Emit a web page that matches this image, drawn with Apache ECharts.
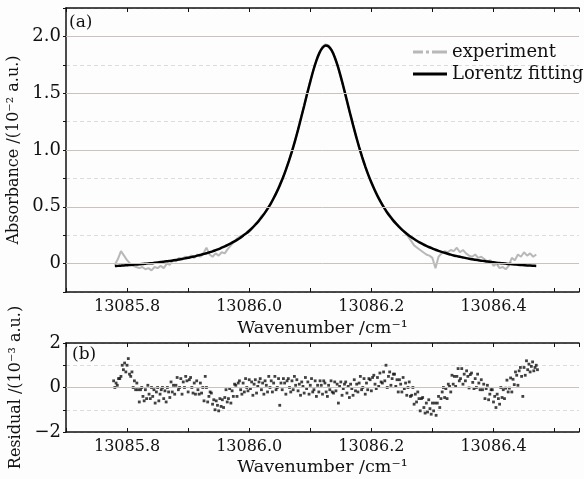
<!DOCTYPE html>
<html><head><meta charset="utf-8">
<script src="https://cdn.jsdelivr.net/npm/echarts@6/dist/echarts.min.js"></script>
<style>html,body{margin:0;padding:0;background:#fff}#c{width:584px;height:479px}</style>
</head><body><div id="c"></div>
<script>
// ---------- data ----------
const wavenumber = [
13085.780,13085.785,13085.790,13085.795,13085.800,13085.805,13085.810,13085.815,13085.820,13085.825,
13085.830,13085.835,13085.840,13085.845,13085.850,13085.855,13085.860,13085.865,13085.870,13085.875,
13085.880,13085.885,13085.890,13085.895,13085.900,13085.905,13085.910,13085.915,13085.920,13085.925,
13085.930,13085.935,13085.940,13085.945,13085.950,13085.955,13085.960,13085.965,13085.970,13085.975,
13085.980,13085.985,13085.990,13085.995,13086.000,13086.005,13086.010,13086.015,13086.020,13086.025,
13086.030,13086.035,13086.040,13086.045,13086.050,13086.055,13086.060,13086.065,13086.070,13086.075,
13086.080,13086.085,13086.090,13086.095,13086.100,13086.105,13086.110,13086.115,13086.120,13086.125,
13086.130,13086.135,13086.140,13086.145,13086.150,13086.155,13086.160,13086.165,13086.170,13086.175,
13086.180,13086.185,13086.190,13086.195,13086.200,13086.205,13086.210,13086.215,13086.220,13086.225,
13086.230,13086.235,13086.240,13086.245,13086.250,13086.255,13086.260,13086.265,13086.270,13086.275,
13086.280,13086.285,13086.290,13086.295,13086.300,13086.305,13086.310,13086.315,13086.320,13086.325,
13086.330,13086.335,13086.340,13086.345,13086.350,13086.355,13086.360,13086.365,13086.370,13086.375,
13086.380,13086.385,13086.390,13086.395,13086.400,13086.405,13086.410,13086.415,13086.420,13086.425,
13086.430,13086.435,13086.440,13086.445,13086.450,13086.455,13086.460,13086.465,13086.470];

const experiment = [
-0.01,0.04,0.11,0.07,0.03,0.00,-0.02,-0.03,-0.04,-0.03,
-0.05,-0.04,-0.06,-0.03,-0.04,-0.02,-0.04,0.00,-0.01,0.03,
0.02,0.05,0.04,0.06,0.05,0.07,0.05,0.08,0.06,0.09,
0.14,0.08,0.06,0.09,0.07,0.10,0.09,0.13,0.16,0.19,
0.22,0.24,0.25,0.26,0.28,0.31,0.35,0.37,0.42,0.44,
0.49,0.52,0.58,0.63,0.70,0.75,0.83,0.90,0.99,1.08,
1.18,1.29,1.39,1.50,1.61,1.70,1.79,1.86,1.91,1.93,
1.92,1.88,1.82,1.74,1.64,1.54,1.43,1.32,1.22,1.12,
1.02,0.93,0.85,0.78,0.72,0.66,0.60,0.55,0.50,0.46,
0.43,0.39,0.36,0.33,0.30,0.27,0.24,0.20,0.16,0.14,
0.12,0.10,0.08,0.07,0.05,-0.04,0.06,0.09,0.11,0.10,
0.12,0.11,0.14,0.10,0.12,0.09,0.07,0.06,0.08,0.05,
0.06,0.04,0.02,0.03,-0.02,0.00,-0.04,-0.03,-0.05,-0.02,
0.05,0.03,0.08,0.06,0.10,0.07,0.09,0.06,0.08];

const lorentzFit = [
-0.022,-0.020,-0.018,-0.016,-0.015,-0.012,-0.010,-0.008,-0.006,-0.004,
-0.001,0.002,0.004,0.007,0.010,0.014,0.017,0.020,0.024,0.028,
0.032,0.037,0.041,0.046,0.052,0.057,0.063,0.070,0.077,0.084,
0.091,0.100,0.108,0.118,0.128,0.140,0.151,0.164,0.178,0.193,
0.209,0.226,0.246,0.266,0.289,0.315,0.342,0.372,0.405,0.442,
0.482,0.526,0.575,0.629,0.688,0.753,0.825,0.904,0.988,1.081,
1.179,1.284,1.389,1.499,1.602,1.702,1.787,1.855,1.900,1.920,
1.911,1.876,1.817,1.738,1.644,1.541,1.434,1.326,1.221,1.120,
1.025,0.937,0.856,0.781,0.713,0.652,0.596,0.545,0.499,0.457,
0.419,0.385,0.354,0.325,0.299,0.276,0.254,0.234,0.216,0.199,
0.184,0.169,0.156,0.144,0.133,0.122,0.112,0.103,0.095,0.087,
0.079,0.072,0.066,0.060,0.054,0.048,0.043,0.039,0.034,0.030,
0.026,0.022,0.018,0.015,0.012,0.008,0.005,0.003,0.000,-0.003,
-0.005,-0.007,-0.010,-0.012,-0.014,-0.016,-0.017,-0.019,-0.021];

const residualX = [
13085.778,13085.780,13085.782,13085.784,13085.786,13085.788,13085.790,13085.792,13085.794,13085.796,
13085.798,13085.800,13085.802,13085.804,13085.806,13085.808,13085.810,13085.812,13085.814,13085.816,
13085.818,13085.820,13085.822,13085.824,13085.826,13085.828,13085.830,13085.832,13085.834,13085.836,
13085.838,13085.840,13085.842,13085.844,13085.846,13085.848,13085.850,13085.852,13085.854,13085.856,
13085.858,13085.860,13085.862,13085.864,13085.866,13085.868,13085.870,13085.872,13085.874,13085.876,
13085.878,13085.880,13085.882,13085.884,13085.886,13085.888,13085.890,13085.892,13085.894,13085.896,
13085.898,13085.900,13085.902,13085.904,13085.906,13085.908,13085.910,13085.912,13085.914,13085.916,
13085.918,13085.920,13085.922,13085.924,13085.926,13085.928,13085.930,13085.932,13085.934,13085.936,
13085.938,13085.940,13085.942,13085.944,13085.946,13085.948,13085.950,13085.952,13085.954,13085.956,
13085.958,13085.960,13085.962,13085.964,13085.966,13085.968,13085.970,13085.972,13085.974,13085.976,
13085.978,13085.980,13085.982,13085.984,13085.986,13085.988,13085.990,13085.992,13085.994,13085.996,
13085.998,13086.000,13086.002,13086.004,13086.006,13086.008,13086.010,13086.012,13086.014,13086.016,
13086.018,13086.020,13086.022,13086.024,13086.026,13086.028,13086.030,13086.032,13086.034,13086.036,
13086.038,13086.040,13086.042,13086.044,13086.046,13086.048,13086.050,13086.052,13086.054,13086.056,
13086.058,13086.060,13086.062,13086.064,13086.066,13086.068,13086.070,13086.072,13086.074,13086.076,
13086.078,13086.080,13086.082,13086.084,13086.086,13086.088,13086.090,13086.092,13086.094,13086.096,
13086.098,13086.100,13086.102,13086.104,13086.106,13086.108,13086.110,13086.112,13086.114,13086.116,
13086.118,13086.120,13086.122,13086.124,13086.126,13086.128,13086.130,13086.132,13086.134,13086.136,
13086.138,13086.140,13086.142,13086.144,13086.146,13086.148,13086.150,13086.152,13086.154,13086.156,
13086.158,13086.160,13086.162,13086.164,13086.166,13086.168,13086.170,13086.172,13086.174,13086.176,
13086.178,13086.180,13086.182,13086.184,13086.186,13086.188,13086.190,13086.192,13086.194,13086.196,
13086.198,13086.200,13086.202,13086.204,13086.206,13086.208,13086.210,13086.212,13086.214,13086.216,
13086.218,13086.220,13086.222,13086.224,13086.226,13086.228,13086.230,13086.232,13086.234,13086.236,
13086.238,13086.240,13086.242,13086.244,13086.246,13086.248,13086.250,13086.252,13086.254,13086.256,
13086.258,13086.260,13086.262,13086.264,13086.266,13086.268,13086.270,13086.272,13086.274,13086.276,
13086.278,13086.280,13086.282,13086.284,13086.286,13086.288,13086.290,13086.292,13086.294,13086.296,
13086.298,13086.300,13086.302,13086.304,13086.306,13086.308,13086.310,13086.312,13086.314,13086.316,
13086.318,13086.320,13086.322,13086.324,13086.326,13086.328,13086.330,13086.332,13086.334,13086.336,
13086.338,13086.340,13086.342,13086.344,13086.346,13086.348,13086.350,13086.352,13086.354,13086.356,
13086.358,13086.360,13086.362,13086.364,13086.366,13086.368,13086.370,13086.372,13086.374,13086.376,
13086.378,13086.380,13086.382,13086.384,13086.386,13086.388,13086.390,13086.392,13086.394,13086.396,
13086.398,13086.400,13086.402,13086.404,13086.406,13086.408,13086.410,13086.412,13086.414,13086.416,
13086.418,13086.420,13086.422,13086.424,13086.426,13086.428,13086.430,13086.432,13086.434,13086.436,
13086.438,13086.440,13086.442,13086.444,13086.446,13086.448,13086.450,13086.452,13086.454,13086.456,
13086.458,13086.460,13086.462,13086.464,13086.466,13086.468,13086.470,13086.472];

const residual = [
0.3,0.0,0.2,0.1,0.4,0.4,0.5,1.0,0.8,1.1,
0.7,1.0,1.3,0.6,0.5,0.7,0.0,0.3,-0.1,0.2,
-0.1,-0.65,-0.1,0.0,-0.4,-0.6,-0.1,-0.5,0.1,-0.3,
-0.5,0.0,-0.4,-0.1,-0.7,-0.2,0.0,-0.6,-0.3,-0.1,
0.0,-0.5,-0.15,-0.65,0.0,-0.2,-0.45,0.25,-0.2,0.1,
-0.3,0.1,0.45,-0.1,0.0,0.4,-0.3,0.25,0.0,0.5,
0.3,-0.2,0.35,0.45,0.0,-0.25,0.2,-0.3,0.3,-0.1,
-0.3,0.2,-0.25,0.0,-0.6,0.5,0.0,-0.65,-0.4,-0.2,
-0.25,-0.75,-0.55,-1.0,-0.6,-0.8,-1.05,-0.5,-0.85,-0.55,
-0.9,-0.45,-0.1,-0.65,-0.5,-0.05,-0.7,-0.15,-0.4,0.15,
0.1,-0.4,0.2,0.3,-0.1,-0.3,0.2,-0.2,0.4,0.0,
-0.15,0.35,-0.05,0.25,-0.35,0.15,0.35,-0.25,0.05,0.25,
0.4,-0.1,0.2,-0.3,0.3,0.1,-0.2,0.5,0.0,0.3,
-0.2,0.2,0.5,-0.1,0.0,0.4,-0.8,0.2,-0.1,0.4,
0.2,-0.3,0.3,0.4,0.0,-0.2,0.3,-0.1,0.5,0.1,
0.35,-0.15,0.15,-0.35,0.25,0.05,-0.25,0.45,-0.05,0.25,
-0.3,0.1,0.4,-0.2,-0.1,0.3,-0.4,0.1,-0.2,0.3,
0.1,-0.3,0.3,0.2,-0.2,-0.4,0.1,-0.1,0.3,-0.2,
-0.25,0.25,-0.15,0.15,-0.7,0.05,0.25,-0.35,-0.05,0.15,
0.25,-0.25,0.05,-0.45,0.15,-0.05,-0.35,0.35,-0.15,0.15,
-0.2,0.2,0.5,-0.1,0.0,0.4,-0.3,0.2,-0.1,0.4,
0.35,-0.15,0.45,0.55,0.15,-0.05,0.45,0.05,0.65,0.25,
0.2,0.7,0.3,1.0,0.0,0.5,0.7,0.1,0.4,0.6,
0.6,0.05,0.35,-0.2,0.35,0.15,-0.2,0.45,-0.05,0.2,
-0.35,0.0,0.25,-0.4,-0.35,0.0,-0.75,-0.3,-0.65,-0.2,
-0.5,-1.05,-0.5,-0.45,-0.9,-1.15,-0.7,-1.1,-0.55,-0.95,
-1.2,-0.7,-1.05,-0.7,-1.25,-0.7,-0.4,-0.9,-0.5,-0.2,
0.0,-0.45,-0.05,-0.5,0.15,0.05,-0.2,0.55,0.15,0.5,
0.05,0.5,0.85,0.3,0.4,0.85,0.15,0.6,0.3,0.75,
0.5,-0.02,0.58,0.65,0.23,-0.05,0.4,0.0,0.6,0.2,
-0.1,0.35,-0.1,0.15,-0.5,-0.05,0.1,-0.55,-0.3,-0.1,
-0.1,-0.65,-0.4,-0.9,-0.3,-0.5,-0.75,0.0,-0.45,-0.1,
-0.5,-0.03,0.33,-0.2,-0.03,0.43,-0.2,0.37,0.13,0.7,
0.55,0.1,0.75,0.9,0.5,-0.4,0.9,0.55,1.2,0.8,
1.05,0.7,0.95,1.15,0.75,0.9,1.0,0.8];

const xTickLabels = [13085.8, 13086.0, 13086.2, 13086.4];
const absTickLabels = [0, 0.5, 1.0, 1.5, 2.0];
const resTickLabels = [-2, 0, 2];
const seriesNames = ['experiment', 'Lorentz fitting'];
const panelLabels = ['(a)', '(b)'];

// ---------- chart ----------
const FONT = 'DejaVu Serif';
const INK = '#111';
const zip = (xs, ys) => xs.map((x, i) => [x, ys[i]]);
const near = (arr, v) => arr.some(t => Math.abs(t - v) < 1e-6);

function xAxisDef(grid, position, withLabels) {
  return {
    type: 'value', gridIndex: grid, position: position,
    min: 13085.7, max: 13086.54, interval: 0.1,
    axisLine: { show: true, onZero: false, lineStyle: { color: INK, width: 1.5 } },
    axisTick: { show: true, inside: true, length: 4, lineStyle: { color: INK, width: 1 } },
    axisLabel: withLabels ? {
      show: true, margin: 7, color: INK, fontFamily: FONT, fontSize: 16,
      formatter: v => near(xTickLabels, v) ? v.toFixed(1) : ''
    } : { show: false },
    splitLine: { show: false },
    name: withLabels ? 'Wavenumber /cm⁻¹' : '',
    nameLocation: 'middle', nameGap: 26,
    nameTextStyle: { color: INK, fontFamily: FONT, fontSize: 17.5 }
  };
}

const chart = echarts.init(document.getElementById('c'), null, { renderer: 'canvas' });
chart.setOption({
  backgroundColor: '#fdfdfd',
  animation: false,
  grid: [
    { left: 66, top: 8, width: 513, height: 284, outerBoundsMode: 'none', containLabel: false },
    { left: 66, top: 343, width: 513, height: 89, outerBoundsMode: 'none', containLabel: false }
  ],
  xAxis: [
    xAxisDef(0, 'bottom', true),
    xAxisDef(0, 'top', false),
    xAxisDef(1, 'bottom', true),
    xAxisDef(1, 'top', false)
  ],
  yAxis: [
    {
      type: 'value', gridIndex: 0, min: -0.25, max: 2.25, interval: 0.25,
      axisLine: { show: true, lineStyle: { color: INK, width: 1.5 } },
      axisTick: { show: true, length: 3, lineStyle: { color: INK } },
      axisLabel: { margin: 5, color: INK, fontFamily: FONT, fontSize: 18,
        formatter: v => near(absTickLabels, v) ? (Math.abs(v) < 1e-9 ? '0' : v.toFixed(1)) : '' },
      splitLine: { show: true, lineStyle: { color: '#dcdcdc', type: [4, 3], width: 1 } },
      name: 'Absorbance /(10⁻² a.u.)', nameLocation: 'middle', nameGap: 39,
      nameTextStyle: { color: INK, fontFamily: FONT, fontSize: 16 }
    },
    {
      type: 'value', gridIndex: 1, min: -2, max: 2, interval: 1,
      axisLine: { show: true, lineStyle: { color: INK, width: 1.5 } },
      axisTick: { show: true, length: 3, lineStyle: { color: INK } },
      axisLabel: { margin: 5, color: INK, fontFamily: FONT, fontSize: 18,
        formatter: v => near(resTickLabels, v) ? (v < 0 ? '−' + Math.abs(v) : String(v)) : '' },
      splitLine: { show: true, lineStyle: { color: '#dcdcdc', type: [4, 3], width: 1 } },
      name: 'Residual /(10⁻³ a.u.)', nameLocation: 'middle', nameGap: 39,
      nameTextStyle: { color: INK, fontFamily: FONT, fontSize: 16 }
    }
  ],
  legend: {
    show: true, orient: 'vertical', left: 408, top: 38,
    itemWidth: 34, itemHeight: 3, itemGap: 4,
    textStyle: { color: INK, fontFamily: FONT, fontSize: 18 },
    data: [
      { name: seriesNames[0], icon: 'path://M0,0H10V3H0Z M13,0H16V3H13Z M19,0H34V3H19Z' },
      { name: seriesNames[1], icon: 'path://M0,0H34V3H0Z' }
    ]
  },
  graphic: [
    { type: 'text', left: 69, top: 14, style: { text: panelLabels[0], fill: INK, font: '17px "DejaVu Serif"' } },
    { type: 'text', left: 72, top: 346, style: { text: panelLabels[1], fill: INK, font: '17px "DejaVu Serif"' } }
  ],
  series: [
    {
      name: 'grid-a', type: 'line', xAxisIndex: 0, yAxisIndex: 0, data: [], z: 1, silent: true,
      markLine: { silent: true, symbol: 'none', label: { show: false },
        lineStyle: { color: '#cbc2bf', type: 'solid', width: 1 },
        data: absTickLabels.map(v => ({ yAxis: v })) }
    },
    {
      name: 'grid-b', type: 'line', xAxisIndex: 2, yAxisIndex: 1, data: [], z: 1, silent: true,
      markLine: { silent: true, symbol: 'none', label: { show: false },
        lineStyle: { color: '#cbc2bf', type: 'solid', width: 1 },
        data: [{ yAxis: 0 }] }
    },
    {
      name: seriesNames[0], type: 'line', xAxisIndex: 0, yAxisIndex: 0,
      data: zip(wavenumber, experiment), showSymbol: false, symbol: 'none',
      lineStyle: { color: '#b8b8b8', width: 2 }, itemStyle: { color: '#b8b8b8' }, z: 2
    },
    {
      name: seriesNames[1], type: 'line', xAxisIndex: 0, yAxisIndex: 0,
      data: zip(wavenumber, lorentzFit), showSymbol: false, symbol: 'none', smooth: 0.2,
      lineStyle: { color: '#000', width: 2.5 }, itemStyle: { color: '#000' }, z: 3
    },
    {
      name: 'residual', type: 'scatter', xAxisIndex: 2, yAxisIndex: 1,
      data: zip(residualX, residual), symbol: 'rect', symbolSize: 2.8,
      itemStyle: { color: '#111' }
    }
  ]
});
</script></body></html>
